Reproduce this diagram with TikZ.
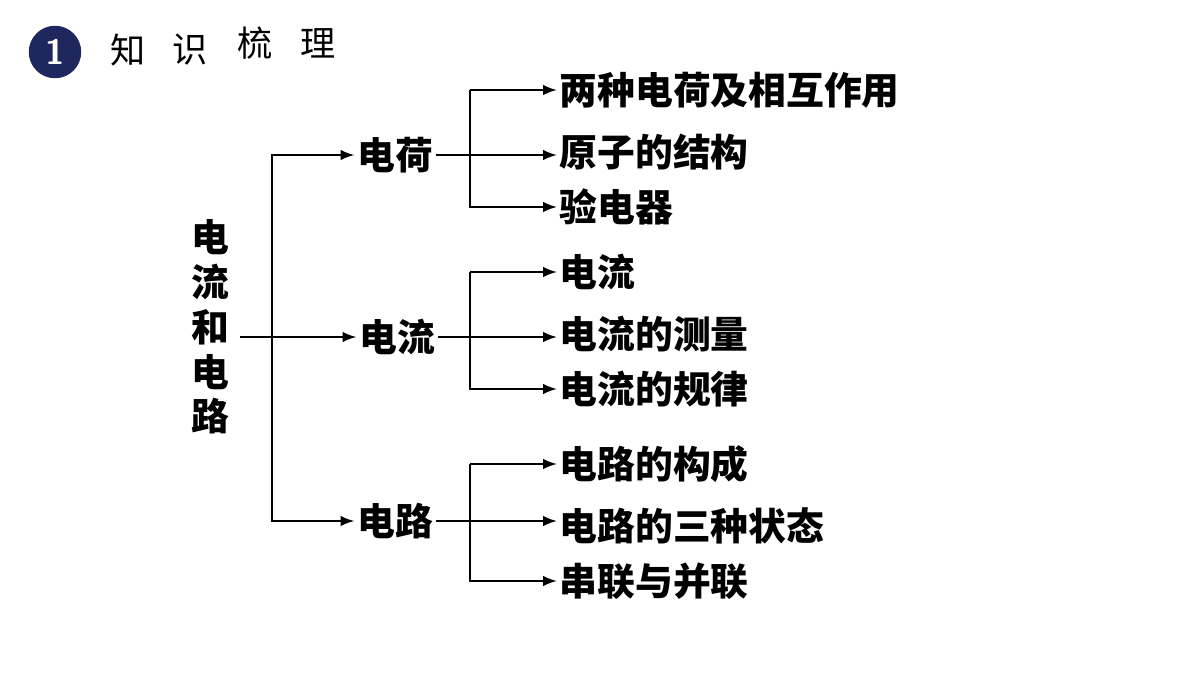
\documentclass[tikz,border=0pt]{standalone}
\usepackage{fontspec}
\newfontfamily\cjk{Noto Sans CJK SC}
\usetikzlibrary{positioning, arrows.meta}
\definecolor{navy}{RGB}{31,40,94}
\tikzset{
	topic/.style={font=\cjk\bfseries\fontsize{21.5}{24}\selectfont, inner sep=1pt},
	leaf/.style={topic, anchor=west},
	head/.style={font=\cjk\fontsize{20}{22}\selectfont}
}
\begin{document}
\begin{tikzpicture}[x=0.02cm, y=-0.02cm, >=Latex, line width=1.1pt]
	\useasboundingbox (0,0) rectangle (1200,675);
	
	% Title
	\node [circle, fill=navy, minimum size=1.05cm, text=white, font=\sffamily\bfseries\fontsize{20}{22}\selectfont] (num) at (55,52) {1};
	\node [head] (t1) at (128,50) {知};
	\node [head] (t2) at (190,50) {识};
	\node [head] (t3) at (255,43) {梳};
	\node [head] (t4) at (318,43) {理};
	
	% Root
	\node [topic, align=center, font=\cjk\bfseries\fontsize{21.5}{25.5}\selectfont] (root) at (210,327) {电\\流\\和\\电\\路};
	
	% Middle level
	\node [topic] (charge) at (395,155) {电荷};
	\node [topic] (current) at (397,337) {电流};
	\node [topic] (circuit) at (395,521) {电路};
	
	\coordinate (split) at (272,337);
	\draw (240,337) -- (split);
	\draw[->] (split) -- (current.west);
	\draw[->] (split) |- (charge.west);
	\draw[->] (split) |- (circuit.west);
	
	% Leaves
	\foreach \mid/\y/\a/\b/\c in {
		charge/0/两种电荷及相互作用/原子的结构/验电器,
		current/182/电流/电流的测量/电流的规律,
		circuit/374/电路的构成/电路的三种状态/串联与并联}{
		\node [leaf] (\mid-a) at (557,90+\y) {\a};
		\node [leaf] (\mid-b) at (557,152+\y) {\b};
		\node [leaf] (\mid-c) at (557,207+\y) {\c};
		\draw (\mid.east) -- (470,0|-\mid.east);
		\draw[->] (470,90+\y) |- (\mid-a.west);
		\draw[->] (470,90+\y) |- (\mid-c.west);
		\draw[->] (470,0|-\mid.east) -- (\mid-b.west|-\mid.east);
	}
\end{tikzpicture}
\end{document}
